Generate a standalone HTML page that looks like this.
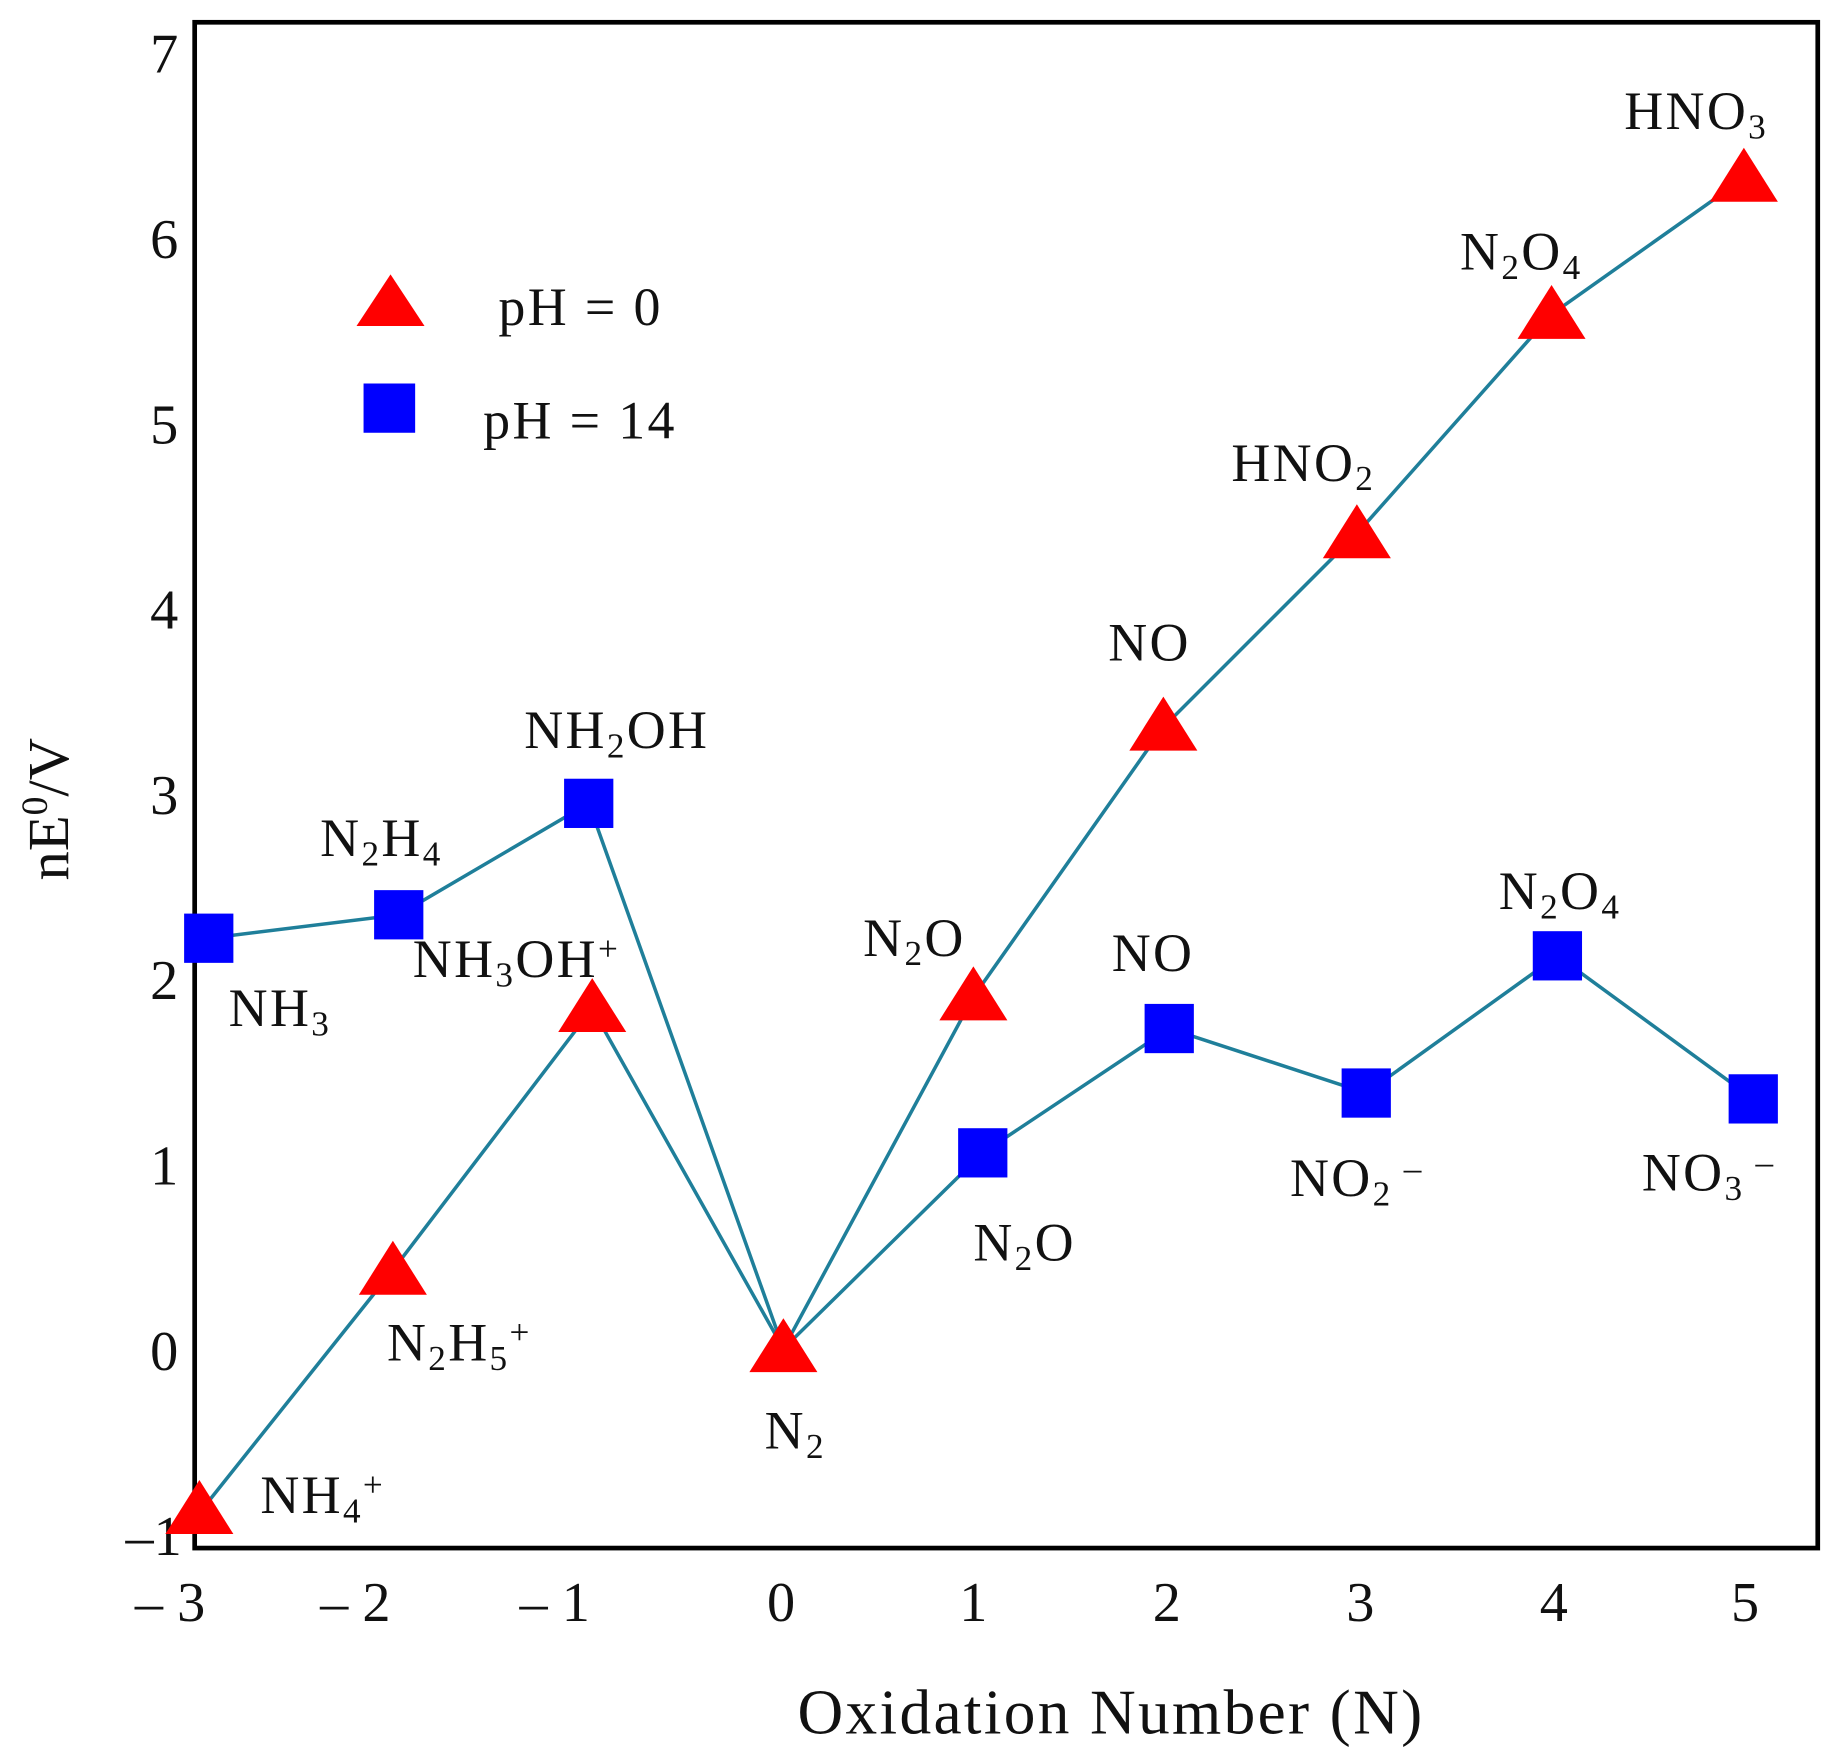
<!DOCTYPE html>
<html><head><style>
html,body{margin:0;padding:0;background:#fff;}
svg{display:block;}
text{font-family:"Liberation Serif",serif;fill:#111;}
</style></head><body>
<svg width="1833" height="1758" viewBox="0 0 1563 1499" preserveAspectRatio="none" xmlns="http://www.w3.org/2000/svg">
<rect x="166" y="19" width="1384" height="1301" fill="none" stroke="#000" stroke-width="4"/>
<g font-size="48" text-anchor="end">
<text x="152" y="62">7</text><text x="152" y="220">6</text><text x="152" y="378">5</text><text x="152" y="536">4</text>
<text x="152" y="694">3</text><text x="152" y="852">2</text><text x="152" y="1010">1</text><text x="152" y="1168">0</text>
<text x="155" y="1326">–1</text>
</g>
<g font-size="48" text-anchor="middle">
<text x="145" y="1382">– 3</text><text x="303" y="1382">– 2</text><text x="473" y="1382">– 1</text><text x="666" y="1382">0</text>
<text x="830" y="1382">1</text><text x="995" y="1382">2</text><text x="1160" y="1382">3</text><text x="1325" y="1382">4</text><text x="1488" y="1382">5</text>
</g>
<text x="680" y="1478" font-size="54" letter-spacing="2">Oxidation Number (N)</text>
<text transform="translate(58,690) rotate(-90)" font-size="50" text-anchor="middle">nE<tspan font-size="32" dy="-18">0</tspan><tspan dy="18">/V</tspan></text>
<g fill="none" stroke="#1f7f9a" stroke-width="3">
<polyline points="170,1290 335,1083 505,860 668,1150 830,850 992,620 1157,455 1323,268 1487,152"/>
<polyline points="178,800 340,780 502,685 668,1150 838,983 997,877 1165,932 1328,815 1495,937"/>
</g>
<g fill="#0000ff">
<rect x="157" y="779" width="42" height="42"/><rect x="319" y="759" width="42" height="42"/><rect x="481" y="664" width="42" height="42"/>
<rect x="817" y="962" width="42" height="42"/><rect x="976" y="856" width="42" height="42"/><rect x="1144" y="911" width="42" height="42"/>
<rect x="1307" y="794" width="42" height="42"/><rect x="1474" y="916" width="42" height="42"/>
<rect x="310" y="327" width="44" height="42"/>
</g>
<g fill="#ff0000">
<path d="M170,1262 L199,1308 L141,1308Z"/><path d="M335,1058 L364,1104 L306,1104Z"/><path d="M505,834 L534,880 L476,880Z"/>
<path d="M668,1124 L697,1170 L639,1170Z"/><path d="M830,824 L859,870 L801,870Z"/><path d="M992,594 L1021,640 L963,640Z"/>
<path d="M1157,430 L1186,476 L1128,476Z"/><path d="M1323,243 L1352,289 L1294,289Z"/><path d="M1487,126 L1516,172 L1458,172Z"/>
<path d="M333,234 L362,278 L304,278Z"/>
</g>
<g font-size="46" letter-spacing="2">
<text x="425" y="277">pH = 0</text><text x="412" y="374">pH = 14</text>
<text x="1385" y="110">HNO<tspan font-size="30" dy="8">3</tspan></text>
<text x="1245" y="230">N<tspan font-size="30" dy="8">2</tspan><tspan dy="-8">O</tspan><tspan font-size="30" dy="8">4</tspan></text>
<text x="1050" y="410">HNO<tspan font-size="30" dy="8">2</tspan></text>
<text x="945" y="563">NO</text>
<text x="736" y="815">N<tspan font-size="30" dy="8">2</tspan><tspan dy="-8">O</tspan></text>
<text x="948" y="828">NO</text>
<text x="1278" y="775">N<tspan font-size="30" dy="8">2</tspan><tspan dy="-8">O</tspan><tspan font-size="30" dy="8">4</tspan></text>
<text x="447" y="638">NH<tspan font-size="30" dy="8">2</tspan><tspan dy="-8">OH</tspan></text>
<text x="273" y="730">N<tspan font-size="30" dy="8">2</tspan><tspan dy="-8">H</tspan><tspan font-size="30" dy="8">4</tspan></text>
<text x="352" y="833">NH<tspan font-size="30" dy="8">3</tspan><tspan dy="-8">OH</tspan><tspan font-size="30" dy="-14">+</tspan></text>
<text x="195" y="875">NH<tspan font-size="30" dy="8">3</tspan></text>
<text x="330" y="1160">N<tspan font-size="30" dy="8">2</tspan><tspan dy="-8">H</tspan><tspan font-size="30" dy="8">5</tspan><tspan font-size="30" dy="-22">+</tspan></text>
<text x="222" y="1290">NH<tspan font-size="30" dy="8">4</tspan><tspan font-size="30" dy="-22">+</tspan></text>
<text x="652" y="1235">N<tspan font-size="30" dy="8">2</tspan></text>
<text x="830" y="1075">N<tspan font-size="30" dy="8">2</tspan><tspan dy="-8">O</tspan></text>
<text x="1100" y="1020">NO<tspan font-size="30" dy="8">2</tspan><tspan font-size="30" dy="-22"> –</tspan></text>
<text x="1400" y="1015">NO<tspan font-size="30" dy="8">3</tspan><tspan font-size="30" dy="-22"> –</tspan></text>
</g>
</svg>
</body></html>
